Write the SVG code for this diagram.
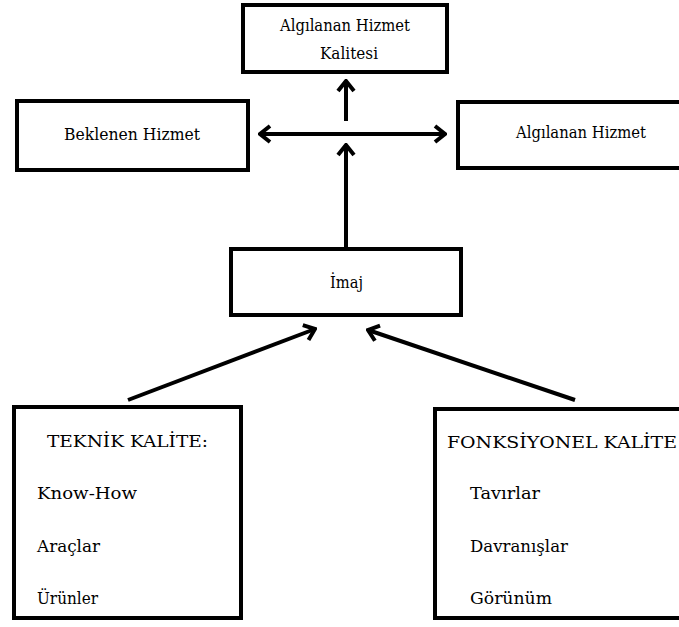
<svg xmlns="http://www.w3.org/2000/svg" width="679" height="627" viewBox="0 0 679 627">
  <style>
    .box { fill: #ffffff; stroke: #000000; stroke-width: 4; }
    .lbl { font-family: "DejaVu Serif", "Liberation Serif", "Noto Serif", serif; font-size: 17px; fill: #000000; }
    .mid { text-anchor: middle; }
    .conn { stroke: #000000; stroke-width: 4; fill: none; }
  </style>
  <defs>
    <marker id="chev" viewBox="-14 -12 16 24" refX="0" refY="0" markerWidth="16" markerHeight="24" markerUnits="userSpaceOnUse" orient="auto-start-reverse">
      <path d="M-10,-8 L0,0 L-10,8" fill="none" stroke="#000000" stroke-width="4" stroke-linejoin="miter"/>
    </marker>
  </defs>
  <rect width="679" height="627" fill="#ffffff"/>

  <g id="connectors">
    <line class="conn" x1="346" y1="121" x2="346" y2="81" marker-end="url(#chev)"/>
    <line class="conn" x1="260" y1="134" x2="445" y2="134" marker-start="url(#chev)" marker-end="url(#chev)"/>
    <line class="conn" x1="346" y1="249" x2="346" y2="145" marker-end="url(#chev)"/>
    <line class="conn" x1="128" y1="400" x2="315" y2="329" marker-end="url(#chev)"/>
    <line class="conn" x1="575" y1="400" x2="368" y2="330" marker-end="url(#chev)"/>
  </g>

  <g id="node-algilanan-kalite">
    <rect class="box" x="243" y="5" width="204" height="67"/>
    <text class="lbl mid" x="345" y="31" textLength="130" lengthAdjust="spacingAndGlyphs">Algılanan Hizmet</text>
    <text class="lbl mid" x="349" y="59" textLength="58" lengthAdjust="spacingAndGlyphs">Kalitesi</text>
  </g>

  <g id="node-beklenen">
    <rect class="box" x="17" y="101" width="231" height="69"/>
    <text class="lbl" x="64" y="140" textLength="136" lengthAdjust="spacingAndGlyphs">Beklenen Hizmet</text>
  </g>

  <g id="node-algilanan">
    <rect class="box" x="458" y="102" width="240" height="66"/>
    <text class="lbl" x="516" y="138" textLength="130" lengthAdjust="spacingAndGlyphs">Algılanan Hizmet</text>
  </g>

  <g id="node-imaj">
    <rect class="box" x="231" y="249" width="230" height="66"/>
    <text class="lbl" x="330" y="288" textLength="33" lengthAdjust="spacingAndGlyphs">İmaj</text>
  </g>

  <g id="node-teknik">
    <rect class="box" x="14" y="407" width="227" height="211"/>
    <text class="lbl" x="47" y="447" textLength="161" lengthAdjust="spacingAndGlyphs">TEKNİK KALİTE:</text>
    <text class="lbl" x="37" y="499" textLength="100" lengthAdjust="spacingAndGlyphs">Know-How</text>
    <text class="lbl" x="37" y="552" textLength="63" lengthAdjust="spacingAndGlyphs">Araçlar</text>
    <text class="lbl" x="37" y="604" textLength="61" lengthAdjust="spacingAndGlyphs">Ürünler</text>
  </g>

  <g id="node-fonksiyonel">
    <rect class="box" x="435" y="409" width="260" height="209"/>
    <text class="lbl" x="447" y="448" textLength="230" lengthAdjust="spacingAndGlyphs">FONKSİYONEL KALİTE</text>
    <text class="lbl" x="470" y="499" textLength="70" lengthAdjust="spacingAndGlyphs">Tavırlar</text>
    <text class="lbl" x="470" y="552" textLength="98" lengthAdjust="spacingAndGlyphs">Davranışlar</text>
    <text class="lbl" x="470" y="604" textLength="82" lengthAdjust="spacingAndGlyphs">Görünüm</text>
  </g>
</svg>
